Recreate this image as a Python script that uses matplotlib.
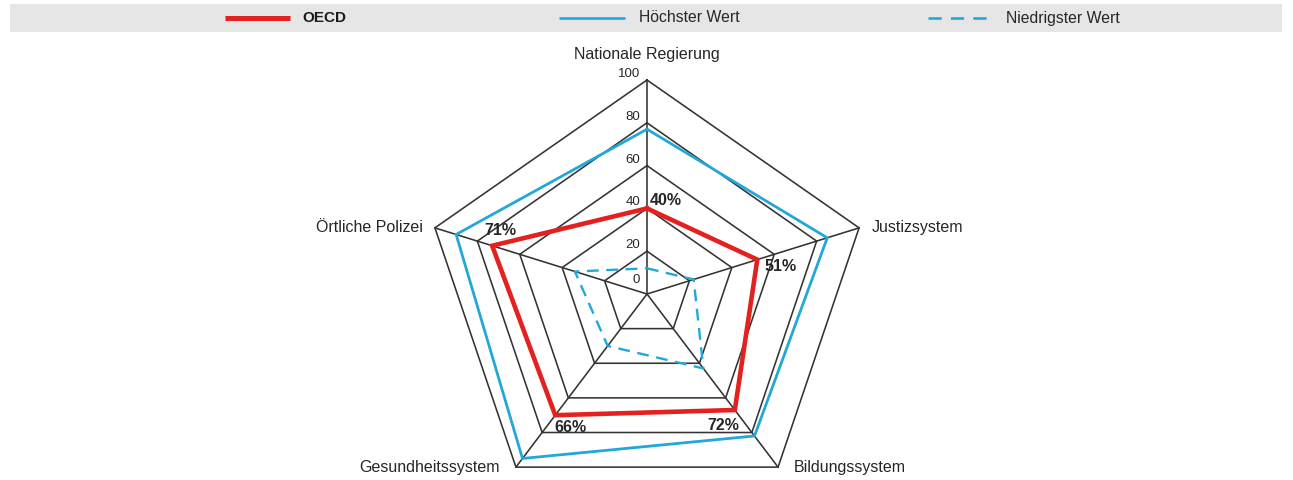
import numpy as np
import matplotlib
matplotlib.use("Agg")
import matplotlib.pyplot as plt

categories = ["Nationale Regierung", "Justizsystem", "Bildungssystem",
              "Gesundheitssystem", "Örtliche Polizei"]
oecd = [40, 52, 67, 70, 73]
oecd_labels = ["40%", "51%", "72%", "66%", "71%"]
hoechster = [77, 85, 82, 95, 90]
niedrigster = [12, 22, 43, 30, 34]
ticks = [0, 20, 40, 60, 80, 100]

RED = "#e3211f"
BLUE = "#22a8d8"
GRID = "#333333"
TXT = "#262626"
FONT = ["Liberation Sans", "DejaVu Sans"]

W, H = 1293, 480
fig = plt.figure(figsize=(W / 100, H / 100), dpi=100)
ax = fig.add_axes([0, 0, 1, 1])
ax.set_axis_off()

# pixel geometry: centre at (647, 294) from top, 100 -> 223 px horizontally, 214 px vertically
cx, cy, sx, sy = 647, 294, 2.23, 2.14
ax.set_xlim(-cx / sx, (W - cx) / sx)
ax.set_ylim(-(H - cy) / sy, cy / sy)

n = len(categories)
angles = np.deg2rad(90 - 72 * np.arange(n))


def xy(vals):
    v = np.asarray(vals, float)
    x = v * np.cos(angles)
    y = v * np.sin(angles)
    return np.append(x, x[0]), np.append(y, y[0])


# grid
for t in ticks[1:]:
    gx, gy = xy([t] * n)
    ax.plot(gx, gy, color=GRID, lw=1.15, zorder=1, solid_joinstyle="miter")
for a in angles:
    ax.plot([0, 100 * np.cos(a)], [0, 100 * np.sin(a)], color=GRID, lw=1.15, zorder=1)

# tick labels
for t in ticks:
    off = 6 if t == 0 else 0
    ax.annotate(str(t), (0, t), xytext=(-5, off), textcoords="offset points",
                ha="right", va="bottom", fontsize=9.5, color=TXT, family=FONT)

# series
hx, hy = xy(hoechster)
ax.plot(hx, hy, color=BLUE, lw=2.0, zorder=3, solid_joinstyle="miter")
nx, ny = xy(niedrigster)
ax.plot(nx, ny, color=BLUE, lw=1.7, ls=(0, (5, 3.2)), zorder=3)
ox, oy = xy(oecd)
ax.plot(ox, oy, color=RED, lw=3.3, zorder=4, solid_joinstyle="miter")

# percentage labels
pct_off = [(2, 6), (5, -5), (-8, -11), (11, -9), (6, 11)]
pct_ha = ["left", "left", "center", "center", "center"]
for i in range(n):
    ax.annotate(oecd_labels[i], (ox[i], oy[i]), xytext=pct_off[i],
                textcoords="offset points", ha=pct_ha[i], va="center",
                fontsize=11.5, fontweight="bold", color=TXT, family=FONT, zorder=6)

# category labels
cat_off = [(0, 18), (9, 0), (11, 0), (-12, 0), (-9, 0)]
cat_ha = ["center", "left", "left", "right", "right"]
for i, c in enumerate(categories):
    ax.annotate(c, (100 * np.cos(angles[i]), 100 * np.sin(angles[i])),
                xytext=cat_off[i], textcoords="offset points",
                ha=cat_ha[i], va="center", fontsize=11.5, color=TXT, family=FONT)

# legend band
lax = fig.add_axes([10 / W, 1 - 32 / H, 1272 / W, 28 / H])
lax.set_xlim(10, 1282)
lax.set_ylim(0, 1)
lax.set_facecolor("#e6e6e6")
for s in lax.spines.values():
    s.set_visible(False)
lax.set_xticks([])
lax.set_yticks([])
lax.plot([225, 290], [0.5, 0.5], color=RED, lw=3.6, solid_capstyle="butt")
lax.text(302, 0.5, "OECD", ha="left", va="center", fontsize=11,
         fontweight="bold", color="#1a1a1a", family=FONT)
lax.plot([559, 625], [0.5, 0.5], color=BLUE, lw=1.9, solid_capstyle="butt")
lax.text(639, 0.5, "Höchster Wert", ha="left", va="center", fontsize=11.3,
         color=TXT, family=FONT)
lax.plot([928, 993], [0.5, 0.5], color=BLUE, lw=1.9, ls=(0, (5, 3.5)))
lax.text(1006, 0.5, "Niedrigster Wert", ha="left", va="center", fontsize=11.3,
         color=TXT, family=FONT)

fig.savefig("out.png", dpi=100, facecolor="white")
